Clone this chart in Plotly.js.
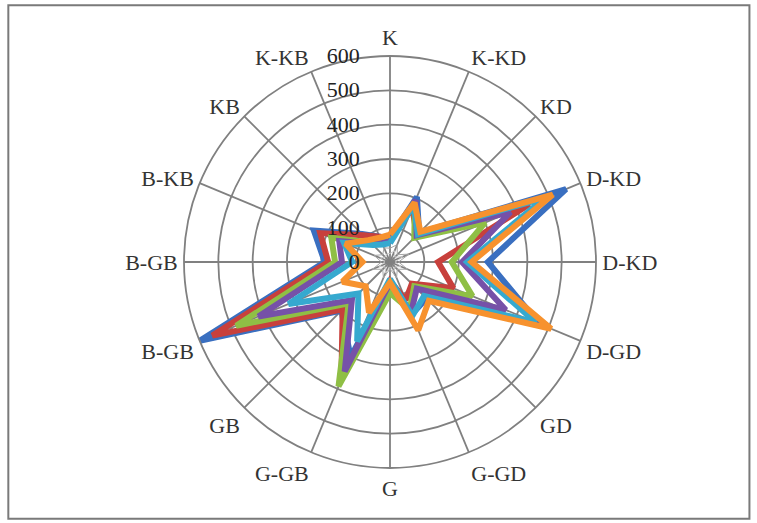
<!DOCTYPE html>
<html>
<head>
<meta charset="utf-8">
<script src="https://cdn.plot.ly/plotly-3.0.1.min.js"></script>
<style>html,body{margin:0;padding:0;background:#fff;}#chart{width:757px;height:523px;}</style>
</head>
<body>
<div id="chart"></div>
<script>
// Categories clockwise from the top
const categories = ["K","K-KD","KD","D-KD","D-KD","D-GD","GD","G-GD","G","G-GB","GB","B-GB","B-GB","B-KB","KB","K-KB"];
const radialTicks = [0,100,200,300,400,500,600];

// Series values
const seriesBlue   = [70, 205, 120, 555, 285, 470, 150, 165, 60, 300, 200, 600, 190, 240, 115, 80];
const seriesRed    = [70, 170, 110, 440, 140, 200,  90, 120, 55, 370, 195, 560, 180, 220, 110, 80];
const seriesGreen  = [65, 190, 100, 300, 180, 260, 100, 150, 90, 392, 170, 485, 160, 185,  80, 65];
const seriesPurple = [60, 195, 110, 380, 210, 365, 110, 160, 60, 345, 157, 415, 140, 160,  75, 60];
const seriesCyan   = [55, 180, 115, 490, 225, 460, 140, 170, 50, 250, 130, 320, 110, 145,  70, 55];
const seriesOrange = [80, 187, 125, 513, 238, 508, 160, 215, 60, 160, 100, 150,  80, 140,  90, 77];
const seriesGray1  = [40,  55,  30,  60,  25,  55,  30,  50, 20,  50,  30,  55,  25,  50,  30, 45];
const seriesGray2  = [25,  35,  20,  40,  15,  35,  20,  30, 15,  35,  20,  35,  15,  30,  20, 25];

const series = [
  {vals: seriesGray1,  color: "#A5A5A5", width: 1},
  {vals: seriesGray2,  color: "#C8C8C8", width: 1},
  {vals: seriesBlue,   color: "#3A6FC0", width: 6},
  {vals: seriesRed,    color: "#C8403C", width: 6},
  {vals: seriesGreen,  color: "#8FBF45", width: 6},
  {vals: seriesPurple, color: "#7651A8", width: 6},
  {vals: seriesCyan,   color: "#36A9CF", width: 6},
  {vals: seriesOrange, color: "#F7922E", width: 6}
];

const step = 360 / categories.length;
const thetas = categories.map((c, i) => i * step);

const traces = series.map(s => ({
  type: "scatterpolar",
  mode: "lines",
  r: s.vals.concat([s.vals[0]]),
  theta: thetas.concat([thetas[0]]),
  line: {color: s.color, width: s.width, shape: "linear"},
  hoverinfo: "skip",
  showlegend: false
}));

const cx = 390, cy = 262, R = 206, W = 757, H = 523;
const fontFam = "Liberation Serif, Times New Roman, serif";

const layout = {
  width: W, height: H,
  margin: {l: 0, r: 0, t: 0, b: 0},
  paper_bgcolor: "#ffffff",
  showlegend: false,
  polar: {
    domain: {x: [(cx - R) / W, (cx + R) / W], y: [(H - cy - R) / H, (H - cy + R) / H]},
    bgcolor: "#ffffff",
    gridshape: "linear",
    angularaxis: {
      type: "linear",
      thetaunit: "degrees",
      rotation: 90,
      direction: "clockwise",
      tickmode: "array",
      tickvals: thetas,
      ticktext: categories,
      ticks: "outside",
      ticklen: 1,
      tickcolor: "rgba(0,0,0,0)",
      showline: true,
      linecolor: "#808080",
      linewidth: 1.8,
      gridcolor: "#808080",
      gridwidth: 1.8,
      tickfont: {family: fontFam, size: 22, color: "#333333"}
    },
    radialaxis: {
      range: [0, 600],
      tickmode: "array",
      tickvals: radialTicks,
      ticktext: radialTicks.map(String),
      angle: 90,
      side: "counterclockwise",
      tickangle: 90,
      showline: false,
      ticks: "outside",
      ticklen: 22,
      tickcolor: "rgba(0,0,0,0)",
      gridcolor: "#808080",
      gridwidth: 1.8,
      tickfont: {family: fontFam, size: 22, color: "#222"}
    }
  },
  shapes: [
    {type: "rect", xref: "paper", yref: "paper", x0: 0.011, x1: 0.99, y0: 0.008, y1: 0.99,
     line: {color: "#7a7a7a", width: 2}, fillcolor: "rgba(0,0,0,0)"}
  ]
};

Plotly.newPlot("chart", traces, layout, {displayModeBar: false, staticPlot: true});
</script>
</body>
</html>
